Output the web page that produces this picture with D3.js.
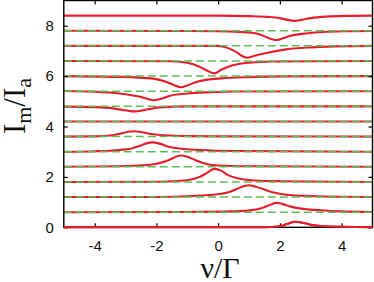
<!DOCTYPE html>
<html>
<head>
<meta charset="utf-8">
<script src="https://cdn.jsdelivr.net/npm/d3@7"></script>
<style>
  body { margin: 0; background: #fff; }
</style>
</head>
<body>
<div id="chart"></div>
<script>
// tick values
const xTicks = [-4, -2, 0, 2, 4];
const yTicks = [0, 2, 4, 6, 8];

// offset of each spectrum (green dashed reference lines)
const baselines = [0.6, 1.2, 1.8, 2.4, 3.0, 3.6, 4.2, 4.8, 5.4, 6.0, 6.6, 7.2, 7.8];

// spectra, [nu, Im/Ia]
const s00 = [[-5,0],[1.5,0],[2.0,0.04],[2.23,0.13],[2.5,0.22],[2.8,0.16],[3.1,0.08],[3.42,0.04],[4,0.02],[5,0]];
const s01 = [[-5,0.6],[-1,0.61],[0.5,0.63],[1.1,0.68],[1.45,0.78],[1.7,0.9],[1.88,0.97],[2.1,0.92],[2.35,0.82],[2.7,0.74],[3.1,0.69],[3.5,0.66],[4,0.63],[5,0.61]];
const s02 = [[-5,1.2],[-2,1.2],[-1,1.23],[-0.3,1.28],[0.3,1.38],[0.6,1.52],[0.85,1.64],[1.0,1.67],[1.2,1.62],[1.45,1.52],[1.8,1.38],[2.3,1.28],[3,1.24],[4,1.21],[5,1.2]];
const s03 = [[-5,1.8],[-2,1.81],[-1.3,1.84],[-1,1.87],[-0.6,2.0],[-0.35,2.17],[-0.12,2.32],[0.1,2.25],[0.3,2.08],[0.7,1.93],[1.2,1.86],[2,1.83],[5,1.8]];
const s04 = [[-5,2.4],[-3.2,2.42],[-2.4,2.46],[-2.0,2.52],[-1.65,2.64],[-1.4,2.78],[-1.22,2.85],[-1.0,2.8],[-0.75,2.67],[-0.4,2.52],[0,2.45],[1,2.42],[5,2.4]];
const s05 = [[-5,3.0],[-4,3.02],[-3.2,3.07],[-2.8,3.13],[-2.5,3.25],[-2.3,3.34],[-2.13,3.37],[-1.9,3.32],[-1.6,3.2],[-1.2,3.12],[-0.6,3.07],[0.5,3.03],[5,3.0]];
const s06 = [[-5,3.6],[-4,3.61],[-3.5,3.64],[-3.15,3.72],[-2.9,3.79],[-2.73,3.81],[-2.5,3.78],[-2.1,3.69],[-1.7,3.65],[-1,3.62],[0,3.61],[5,3.6]];
const s07 = [[-5,4.2],[5,4.2]];
const s08 = [[-5,4.79],[-4,4.77],[-3.4,4.72],[-3.1,4.66],[-2.85,4.61],[-2.68,4.6],[-2.45,4.64],[-2.2,4.7],[-1.9,4.76],[-1,4.8],[5,4.8]];
const s09 = [[-5,5.41],[-4,5.38],[-3.2,5.31],[-2.8,5.24],[-2.5,5.17],[-2.25,5.08],[-2.08,5.04],[-1.85,5.1],[-1.55,5.22],[-1.0,5.31],[-0.3,5.36],[0.5,5.39],[5,5.4]];
const s10 = [[-5,6.0],[-3.2,5.97],[-2.1,5.9],[-1.65,5.76],[-1.4,5.63],[-1.22,5.56],[-1.0,5.63],[-0.75,5.75],[-0.35,5.86],[0.1,5.91],[1,5.96],[2,5.99],[5,6.0]];
const s11 = [[-5,6.6],[-1.5,6.59],[-1.0,6.53],[-0.6,6.37],[-0.3,6.18],[-0.12,6.11],[0.1,6.25],[0.45,6.42],[0.75,6.5],[1.2,6.55],[1.8,6.58],[5,6.6]];
const s12 = [[-5,7.2],[0,7.2],[0.3,7.12],[0.55,6.98],[0.8,6.78],[0.94,6.73],[1.15,6.8],[1.6,6.93],[2.2,7.06],[3,7.14],[3.8,7.18],[5,7.2]];
const s13 = [[-5,7.8],[-1,7.79],[0,7.78],[0.7,7.75],[1.1,7.72],[1.4,7.63],[1.65,7.5],[1.87,7.43],[2.1,7.5],[2.35,7.6],[2.9,7.7],[3.4,7.75],[4.2,7.78],[5,7.79]];
const s14 = [[-5,8.4],[0,8.4],[1.0,8.38],[1.6,8.35],[2.0,8.3],[2.3,8.22],[2.48,8.19],[2.7,8.23],[3.0,8.3],[3.5,8.36],[4.2,8.39],[5,8.4]];
const spectra = [s00, s01, s02, s03, s04, s05, s06, s07, s08, s09, s10, s11, s12, s13, s14];

const width = 374, height = 282;
const mLeft = 63.8, mRight = 372.5, mTop = 0.5, mBottom = 227.3;

const svg = d3.select("#chart").append("svg")
    .attr("width", width)
    .attr("height", height);

const x = d3.scaleLinear().domain([-5, 5]).range([mLeft, mRight]);
const y = d3.scaleLinear().domain([0, 9]).range([mBottom, mTop]);

const line = d3.line()
    .x(d => x(d[0]))
    .y(d => y(d[1]))
    .curve(d3.curveMonotoneX);

const plot = svg.append("g");

// red spectra
plot.selectAll("path.spec")
    .data(spectra)
    .enter().append("path")
    .attr("class", "spec")
    .attr("d", line)
    .attr("fill", "none")
    .attr("stroke", "#e61e2b")
    .attr("stroke-width", 2.1);

// green dashed references on top
plot.selectAll("line.ref")
    .data(baselines)
    .enter().append("line")
    .attr("class", "ref")
    .attr("x1", mLeft).attr("x2", mRight)
    .attr("y1", d => y(d)).attr("y2", d => y(d))
    .attr("stroke", "#5cbf55")
    .attr("stroke-width", 1.5)
    .attr("stroke-dasharray", "8,4");

// axes
const fontTicks = "'Liberation Sans', Arial, sans-serif";

const gx = svg.append("g")
    .attr("transform", "translate(0," + mBottom + ")")
    .call(d3.axisBottom(x).tickValues(xTicks).tickSizeInner(-4).tickSizeOuter(0).tickPadding(13)
        .tickFormat(d3.format("d")));
const gxTop = svg.append("g")
    .attr("transform", "translate(0," + mTop + ")")
    .call(d3.axisTop(x).tickValues(xTicks).tickSizeInner(-4).tickSizeOuter(0).tickFormat(""));
const gy = svg.append("g")
    .attr("transform", "translate(" + mLeft + ",0)")
    .call(d3.axisLeft(y).tickValues(yTicks).tickSizeInner(-4).tickSizeOuter(0).tickPadding(10)
        .tickFormat(d3.format("d")));
const gyRight = svg.append("g")
    .attr("transform", "translate(" + mRight + ",0)")
    .call(d3.axisRight(y).tickValues(yTicks).tickSizeInner(-4).tickSizeOuter(0).tickFormat(""));

[gx, gxTop, gy, gyRight].forEach(g => {
    g.select(".domain").remove();
    g.selectAll(".tick line").attr("stroke", "#000").attr("stroke-width", 1.2);
    g.selectAll(".tick text")
        .attr("font-family", fontTicks)
        .attr("font-size", 15)
        .attr("fill", "#111");
});
gx.selectAll(".tick text").text(d => d < 0 ? "-" + Math.abs(d) : d);

// frame
svg.append("rect")
    .attr("x", mLeft).attr("y", mTop)
    .attr("width", mRight - mLeft).attr("height", mBottom - mTop)
    .attr("fill", "none")
    .attr("stroke", "#000")
    .attr("stroke-width", 1.4);

// bottom spectrum sits on the axis, redraw it over the frame
svg.append("path")
    .datum(s00)
    .attr("d", line)
    .attr("fill", "none")
    .attr("stroke", "#e61e2b")
    .attr("stroke-width", 2.1);

// axis titles
const serif = "'Liberation Serif', 'Times New Roman', serif";

svg.append("text")
    .attr("x", 220).attr("y", 278)
    .attr("text-anchor", "middle")
    .attr("font-family", serif)
    .attr("font-size", 30)
    .attr("fill", "#111")
    .text("ν/Γ");

const ylab = svg.append("text")
    .attr("transform", "translate(25,106) rotate(-90)")
    .attr("text-anchor", "middle")
    .attr("font-family", serif)
    .attr("font-size", 31)
    .attr("fill", "#111");
ylab.append("tspan").text("I");
ylab.append("tspan").attr("font-size", 22).attr("dy", 6).text("m");
ylab.append("tspan").attr("dy", -6).text("/I");
ylab.append("tspan").attr("font-size", 22).attr("dy", 6).text("a");
</script>
</body>
</html>
